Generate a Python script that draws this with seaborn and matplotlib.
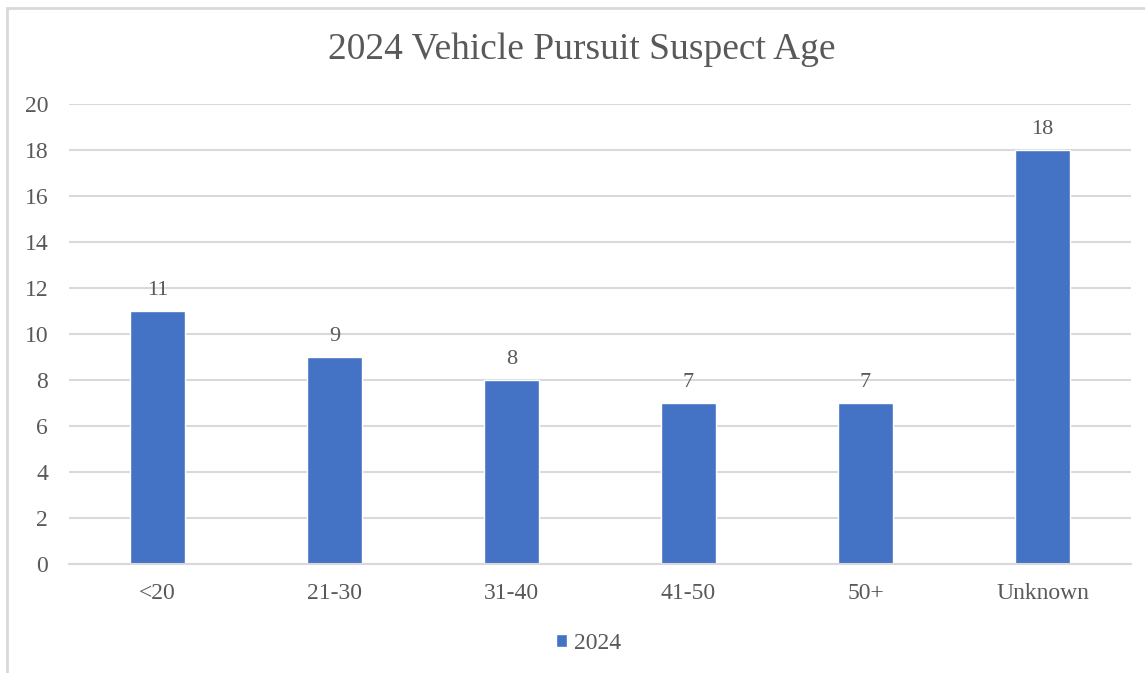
import matplotlib
matplotlib.use("Agg")
import matplotlib.pyplot as plt
import seaborn as sns
import pandas as pd
from matplotlib.patches import Rectangle

# chart data
age_groups = ["<20", "21-30", "31-40", "41-50", "50+", "Unknown"]
suspects_2024 = [11, 9, 8, 7, 7, 18]
series_name = "2024"

sns.set_theme(style="white")
plt.rcParams["font.family"] = ["Liberation Serif", "DejaVu Serif"]

text_color = "#595959"
grid_color = "#D9D9D9"
bar_color = "#4472C4"

df = pd.DataFrame({"Age": age_groups, "Count": suspects_2024})

fig = plt.figure(figsize=(11.45, 6.73), dpi=100)
ax = fig.add_axes([0.0603, 0.162, 0.9275, 0.6835])

sns.barplot(data=df, x="Age", y="Count", color=bar_color, width=0.31,
            saturation=1, label=series_name, ax=ax)

ax.set_ylim(0, 20)
ax.set_yticks(range(0, 21, 2))
ax.set_xlim(-0.5, len(age_groups) - 0.5)
ax.yaxis.grid(True, color=grid_color, linewidth=1.5)
ax.set_axisbelow(True)
for side in ["left", "right", "top"]:
    ax.spines[side].set_visible(False)
ax.spines["bottom"].set_color(grid_color)
ax.spines["bottom"].set_linewidth(1.5)
ax.tick_params(axis="both", length=0, labelsize=17, colors=text_color)
ax.tick_params(axis="y", pad=15)
ax.tick_params(axis="x", pad=14)
ax.set_xlabel("")
ax.set_ylabel("")

for cont in ax.containers:
    ax.bar_label(cont, fmt="%d", padding=8, fontsize=16, color=text_color)

fig.suptitle("2024 Vehicle Pursuit Suspect Age", x=0.508, y=1 - 50 / 673,
             va="center", fontsize=27, color=text_color)

leg = ax.legend(loc="center", bbox_to_anchor=(0.489, -0.172), frameon=False,
                handlelength=0.45, handleheight=0.45, handletextpad=0.3,
                fontsize=17)
for t in leg.get_texts():
    t.set_color(text_color)

# outer chart border (right and bottom run off the image)
fig.patches.append(Rectangle((7 / 1145, -0.05), 1.1, 1 - 8 / 673 + 0.05,
                             transform=fig.transFigure, fill=False,
                             edgecolor=grid_color, linewidth=2))

fig.savefig("out.png", dpi=100)
